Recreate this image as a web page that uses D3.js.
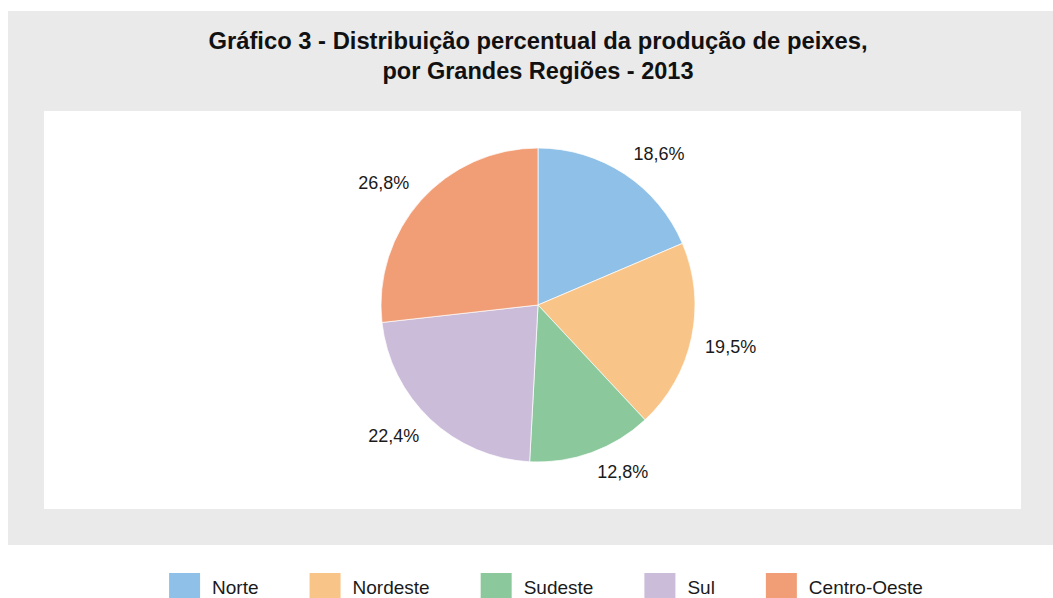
<!DOCTYPE html>
<html>
<head>
<meta charset="utf-8">
<script src="https://cdn.jsdelivr.net/npm/d3@7"></script>
<style>
  html, body { margin: 0; padding: 0; background: #ffffff; }
  svg { display: block; }
</style>
</head>
<body>
<div id="chart"></div>
<script>
// ========== DATA ==========
const regions = ["Norte", "Nordeste", "Sudeste", "Sul", "Centro-Oeste"];
const shares = [18.6, 19.5, 12.8, 22.4, 26.8];
const colors = ["#8fc0e7", "#f9c487", "#8bc99c", "#cbbcda", "#f19e77"];
const titleLines = [
  "Gráfico 3 - Distribuição percentual da produção de peixes,",
  "por Grandes Regiões - 2013"
];

// ========== LAYOUT ==========
const width = 1053;
const height = 598;
const cx = 538, cy = 305, radius = 157;
const labelFont = "'Liberation Sans', Arial, Helvetica, sans-serif";

const svg = d3.select("#chart")
  .append("svg")
  .attr("width", width)
  .attr("height", height)
  .attr("viewBox", `0 0 ${width} ${height}`);

// gray frame + white plot panel
svg.append("rect")
  .attr("x", 8).attr("y", 11)
  .attr("width", width - 8).attr("height", 534)
  .style("fill", "#eaeaea");

svg.append("rect")
  .attr("x", 44).attr("y", 111)
  .attr("width", 977).attr("height", 398)
  .style("fill", "#ffffff");

// title
const titleWidths = [659, 311];
svg.append("g")
  .selectAll("text")
  .data(titleLines)
  .join("text")
  .attr("x", cx)
  .attr("y", (d, i) => 49 + i * 30)
  .attr("text-anchor", "middle")
  .attr("textLength", (d, i) => titleWidths[i])
  .attr("lengthAdjust", "spacingAndGlyphs")
  .style("font-family", labelFont)
  .style("font-weight", "bold")
  .style("font-size", "23.5px")
  .style("fill", "#111")
  .text(d => d);

// ========== PIE ==========
const data = regions.map((r, i) => ({ region: r, value: shares[i], color: colors[i] }));

const pie = d3.pie()
  .value(d => d.value)
  .sort(null);

const arc = d3.arc()
  .innerRadius(0)
  .outerRadius(radius);

const arcs = pie(data);

const pieGroup = svg.append("g")
  .attr("transform", `translate(${cx}, ${cy})`);

pieGroup.selectAll("path")
  .data(arcs)
  .join("path")
  .attr("d", arc)
  .style("fill", d => d.data.color)
  .style("stroke", "#ffffff")
  .style("stroke-width", 0.7);

// labels: box corner touches a point just outside the rim
const labelR = radius + 13;
const capH = 13;
pieGroup.selectAll("text.pct")
  .data(arcs)
  .join("text")
  .attr("class", "pct")
  .each(function (d) {
    const a = (d.startAngle + d.endAngle) / 2;
    const px = Math.sin(a) * labelR;
    const py = -Math.cos(a) * labelR;
    const anchor = Math.sin(a) >= 0 ? "start" : "end";
    const y = Math.cos(a) > 0 ? py - 4 * Math.cos(a) : py + capH;
    d3.select(this)
      .attr("x", px + 4 * Math.sin(a) * Math.abs(Math.cos(a)))
      .attr("y", y)
      .attr("text-anchor", anchor);
  })
  .style("font-family", labelFont)
  .style("font-size", "18px")
  .style("fill", "#1a1a1a")
  .text(d => d3.format(".1f")(d.data.value).replace(".", ",") + "%");

// ========== LEGEND ==========
const legend = svg.append("g");
const swatchW = 31, swatchH = 25, textGap = 12, itemGap = 51;

const items = legend.selectAll("g.item")
  .data(data)
  .join("g")
  .attr("class", "item");

items.append("rect")
  .attr("width", swatchW)
  .attr("height", swatchH)
  .attr("y", 573)
  .style("fill", d => d.color);

items.append("text")
  .attr("x", swatchW + textGap)
  .attr("y", 594)
  .style("font-family", labelFont)
  .style("font-size", "19px")
  .style("fill", "#1a1a1a")
  .text(d => d.region);

let offset = 0;
const positions = [];
items.each(function () {
  const w = d3.select(this).select("text").node().getComputedTextLength();
  positions.push(offset);
  offset += swatchW + textGap + w + itemGap;
});
const totalW = offset - itemGap;
const startX = 546 - totalW / 2;
items.attr("transform", (d, i) => `translate(${startX + positions[i]}, 0)`);
</script>
</body>
</html>
